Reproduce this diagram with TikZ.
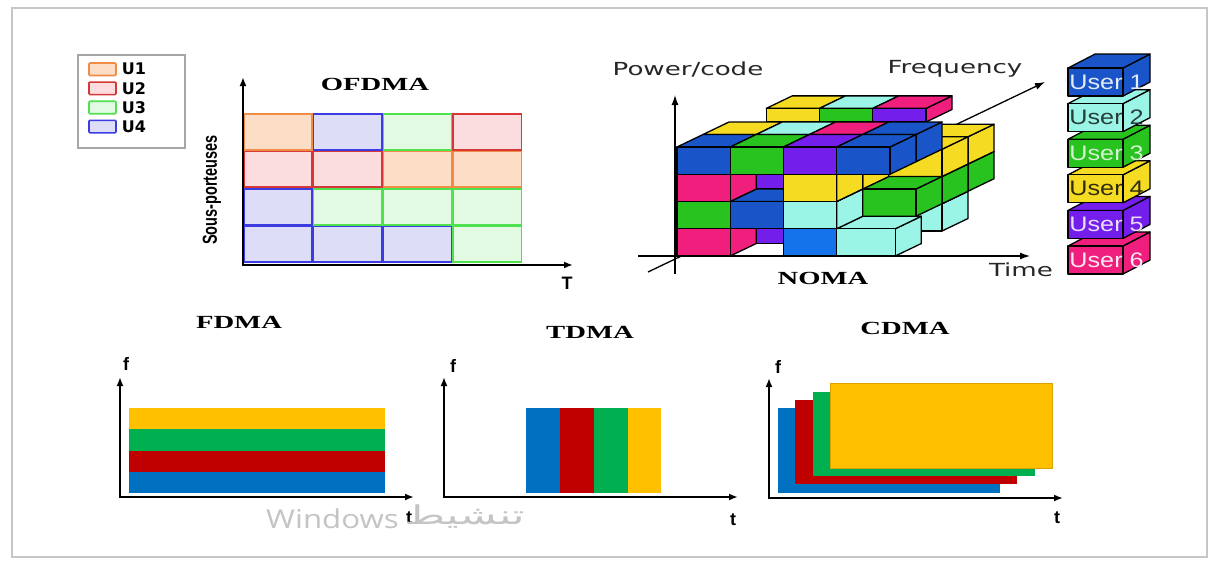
\documentclass[tikz,border=0pt]{standalone}
\usepackage{fontspec}
\setmainfont{Liberation Serif}
\setsansfont{DejaVu Sans}
\newfontfamily\arialfont{Liberation Sans}
\newfontfamily\winfont{Open Sans}
\newfontfamily\arabicfont[Script=Arabic]{DejaVu Sans}
\TeXXeTstate=1
\usetikzlibrary{matrix,positioning,arrows.meta}
% OFDMA users (border / light fill)
\definecolor{uorange}{RGB}{240,140,70}
\definecolor{uorangel}{RGB}{252,222,198}
\definecolor{ured}{RGB}{215,55,55}
\definecolor{uredl}{RGB}{251,221,224}
\definecolor{ugreen}{RGB}{80,225,80}
\definecolor{ugreenl}{RGB}{226,250,226}
\definecolor{ublue}{RGB}{60,60,225}
\definecolor{ubluel}{RGB}{221,221,248}
% NOMA cubes
\definecolor{nblue}{RGB}{25,85,200}
\definecolor{nbrblue}{RGB}{20,115,235}
\definecolor{ngreen}{RGB}{40,195,30}
\definecolor{npurple}{RGB}{115,30,235}
\definecolor{npink}{RGB}{240,30,125}
\definecolor{nyellow}{RGB}{245,220,35}
\definecolor{ncyan}{RGB}{155,245,230}
% FDMA / TDMA / CDMA
\definecolor{fyellow}{RGB}{255,192,0}
\definecolor{fgreen}{RGB}{0,176,80}
\definecolor{fred}{RGB}{192,0,0}
\definecolor{fblue}{RGB}{0,112,192}
\definecolor{wmgray}{RGB}{196,196,196}

% one block: t, p, f, width, height, colour
\newcommand{\vox}[6]{%
  \filldraw[fill=#6,cubeline] ({#1+#4},{#2},{#3}) -- ++(0,0,1) -- ++(0,#5,0) -- ++(0,0,-1) -- cycle;
  \filldraw[fill=#6,cubeline] ({#1},{#2+#5},{#3}) -- ++(#4,0,0) -- ++(0,0,1) -- ++(-#4,0,0) -- cycle;
  \filldraw[fill=#6,cubeline] ({#1},{#2},{#3}) -- ++(#4,0,0) -- ++(0,#5,0) -- ++(-#4,0,0) -- cycle;
}
% block with a different front colour: t, p, f, width, height, front, top
\newcommand{\slab}[7]{%
  \vox{#1}{#2}{#3}{#4}{#5}{#7}
  \filldraw[fill=#6,cubeline] ({#1},{#2},{#3}) -- ++(#4,0,0) -- ++(0,#5,0) -- ++(-#4,0,0) -- cycle;
}

\begin{document}
\begin{tikzpicture}[x=1pt,y=-1pt,
  axis/.style={line width=1.8pt,-{Latex[length=9pt,width=7pt]}},
  naxis/.style={line width=1.3pt,-{Latex[length=10pt,width=7pt]}},
  title/.style={font=\bfseries\fontsize{18.5}{20}\selectfont,xscale=1.55},
  lbl/.style={font=\arialfont\bfseries\fontsize{18}{20}\selectfont},
  ntext/.style={font=\sffamily\fontsize{18}{20}\selectfont,text=black!85,xscale=1.45},
  utext/.style={font=\arialfont\fontsize{21}{22}\selectfont,xscale=1.2,inner sep=1pt,anchor=west},
  wmark/.style={font=\winfont\fontsize{26}{28}\selectfont,text=wmgray,inner sep=0pt},
  cubeline/.style={draw=black,line width=1.3pt,line join=round},
  amat/.style={matrix of nodes,nodes in empty cells,inner sep=0pt,outer sep=0pt,
    row sep=0pt,column sep=0pt,
    nodes={minimum width=68.2pt,minimum height=35.9pt,line width=1.6pt,inner sep=0pt}},
  kmat/.style={matrix of nodes,inner sep=0pt,row sep=5pt,column sep=5pt,
    nodes={anchor=center,inner sep=0pt,font=\sffamily\bfseries\fontsize{16}{17}\selectfont}},
  swatch/.style={minimum width=27pt,minimum height=12.5pt,line width=1.6pt,rounded corners=1pt},
  uone/.style={draw=uorange,fill=uorangel},
  utwo/.style={draw=ured,fill=uredl},
  uthree/.style={draw=ugreen,fill=ugreenl},
  ufour/.style={draw=ublue,fill=ubluel}]

  \fill[white] (0,0) rectangle (1219,568);
  \useasboundingbox (0,0) rectangle (1219,568);
  \draw[gray!45,line width=1.4pt] (12,8) rectangle (1207,557);

  % OFDMA
  \draw[gray!70,line width=1.5pt] (78,55) rectangle (185,148);
  \matrix[kmat,anchor=north west] (key) at (88,62) {
    |[swatch,uone]|   & U1 \\
    |[swatch,utwo]|   & U2 \\
    |[swatch,uthree]| & U3 \\
    |[swatch,ufour]|  & U4 \\
  };

  \matrix[amat,anchor=north west] (ofdma) at (243,113) {
    |[uone]|  & |[ufour]|  & |[uthree]| & |[utwo]|   \\
    |[utwo]|  & |[utwo]|   & |[uone]|   & |[uone]|   \\
    |[ufour]| & |[uthree]| & |[uthree]| & |[uthree]| \\
    |[ufour]| & |[ufour]|  & |[ufour]|  & |[uthree]| \\
  };

  \coordinate (of-o) at (243,265);
  \coordinate (of-y) at (243,77);
  \coordinate (of-x) at (573,265);
  \draw[axis] ([yshift=-0.9pt]of-o) -- (of-y);
  \draw[axis] ([xshift=-0.9pt]of-o) -- (of-x);
  \node[title] (ofdma-t) at (375,84) {OFDMA};
  \node[rotate=90,font=\arialfont\bfseries\fontsize{14.5}{16}\selectfont] (subc) at (212,190)
    {\scalebox{1}[1.4]{Sous-porteuses}};
  \node[lbl] (of-t) at (567,283) {T};

  % NOMA axes
  \coordinate (no-yb) at (675,274);
  \coordinate (no-y) at (675,95);
  \coordinate (no-xl) at (638,256);
  \coordinate (no-x) at (1030,256);
  \coordinate (no-fl) at (648,272);
  \coordinate (no-f) at (1045,82);
  \draw[naxis] (no-yb) -- (no-y);
  \draw[naxis] (no-xl) -- (no-x);
  \draw[naxis] (no-fl) -- (no-f);

  \begin{scope}[shift={(677,256)},x={(53.25pt,0pt)},y={(0pt,27.25pt)},z={(26pt,12.5pt)}]
    % back layer
    \vox{3}{1}{3}{1}{1}{ngreen}
    \vox{3}{2}{3}{1}{1}{nyellow}
    \vox{3}{0}{2}{1}{1}{ncyan}
    \vox{3}{1}{2}{1}{1}{ngreen}
    \vox{3}{2}{2}{1}{1}{nyellow}
    \slab{0.7}{4}{2}{1}{0.5}{nyellow}{nyellow}
    \slab{1.7}{4}{2}{1}{0.5}{ngreen}{ncyan}
    \slab{2.7}{4}{2}{1}{0.5}{npurple}{npink}
    % middle layer
    \vox{1}{0}{1}{1}{1}{npurple}
    \vox{3}{1}{1}{1}{1}{ngreen}
    \vox{1}{2}{1}{1}{1}{npurple}
    \vox{2}{2}{1}{1}{1}{nyellow}
    \vox{0}{3}{1}{1}{1}{nyellow}
    \vox{1}{3}{1}{1}{1}{ncyan}
    \vox{2}{3}{1}{1}{1}{npink}
    \vox{3}{3}{1}{1}{1}{nblue}
    % front layer
    \vox{0}{0}{0}{1}{1}{npink}
    \vox{2}{0}{0}{1}{1}{nbrblue}
    \vox{3}{0}{0}{1.1}{1}{ncyan}
    \vox{0}{1}{0}{1}{1}{ngreen}
    \vox{1}{1}{0}{1}{1}{nblue}
    \vox{2}{1}{0}{1}{1}{ncyan}
    \vox{0}{2}{0}{1}{1}{npink}
    \vox{2}{2}{0}{1}{1}{nyellow}
    \vox{0}{3}{0}{1}{1}{nblue}
    \vox{1}{3}{0}{1}{1}{ngreen}
    \vox{2}{3}{0}{1}{1}{npurple}
    \vox{3}{3}{0}{1}{1}{nblue}
  \end{scope}

  \node[ntext] (power) at (688,69) {Power/code};
  \node[ntext] (freq) at (955,69) {Frequency};
  \node[ntext] (time) at (1021,270) {Time};
  \node[title] (noma-t) at (823,278) {NOMA};

  % users
  \begin{scope}[shift={(1068,274)},x={(55pt,0pt)},y={(0pt,28pt)},z={(27pt,14pt)}]
    \foreach \i/\c/\tc in {6/npink/white!90!npink,5/npurple/white!85!npurple,
      4/nyellow/black!80!nyellow,3/ngreen/white!80!ngreen,2/ncyan/black!75!ncyan,1/nblue/white!88!nblue}{
      \pgfmathsetmacro\pp{(6-\i)*1.271}
      \vox{0}{\pp}{0}{1}{1}{\c}
      \node[utext,text=\tc] (user\i) at (0,{\pp+0.5},0) {User \i};
    }
  \end{scope}

  % FDMA
  \fill[fyellow] (129,408) rectangle (385,429);
  \fill[fgreen] (129,429) rectangle (385,451);
  \fill[fred] (129,451) rectangle (385,472);
  \fill[fblue] (129,472) rectangle (385,493);
  \coordinate (fd-o) at (120,497);
  \coordinate (fd-y) at (120,377);
  \coordinate (fd-x) at (414,497);
  \draw[axis] ([yshift=-0.9pt]fd-o) -- (fd-y);
  \draw[axis] ([xshift=-0.9pt]fd-o) -- (fd-x);
  \node[title] (fdma-t) at (239,322) {FDMA};
  \node[lbl] (fd-f) at (126,364) {f};
  \node[lbl] (fd-t) at (409,518) {t};

  % TDMA
  \fill[fblue] (526,408) rectangle (560,493);
  \fill[fred] (560,408) rectangle (594,493);
  \fill[fgreen] (594,408) rectangle (628,493);
  \fill[fyellow] (628,408) rectangle (661,493);
  \coordinate (td-o) at (444,497);
  \coordinate (td-y) at (444,377);
  \coordinate (td-x) at (738,497);
  \draw[axis] ([yshift=-0.9pt]td-o) -- (td-y);
  \draw[axis] ([xshift=-0.9pt]td-o) -- (td-x);
  \node[title] (tdma-t) at (590,332) {TDMA};
  \node[lbl] (td-f) at (453,366) {f};
  \node[lbl] (td-t) at (733,520) {t};

  % CDMA
  \fill[fblue] (778,408) rectangle (1000,493);
  \fill[fred] (795,400) rectangle (1017,484);
  \fill[fgreen] (813,392) rectangle (1035,476);
  \filldraw[fill=fyellow,draw=fyellow!85!black,line width=0.6pt] (830,383) rectangle (1052,468);
  \coordinate (cd-o) at (769,498);
  \coordinate (cd-y) at (769,378);
  \coordinate (cd-x) at (1063,498);
  \draw[axis] ([yshift=-0.9pt]cd-o) -- (cd-y);
  \draw[axis] ([xshift=-0.9pt]cd-o) -- (cd-x);
  \node[title] (cdma-t) at (905,328) {CDMA};
  \node[lbl] (cd-f) at (778,367) {f};
  \node[lbl] (cd-t) at (1057,518) {t};

  % watermark
  \node[wmark,anchor=west,xscale=1.2] (win) at (266,519) {Windows};
  \node[wmark,anchor=west,xscale=1.7,font=\arabicfont\fontsize{26}{28}\selectfont] (winar) at (404,517)
    {\beginR تنشيط\endR};
\end{tikzpicture}
\end{document}
